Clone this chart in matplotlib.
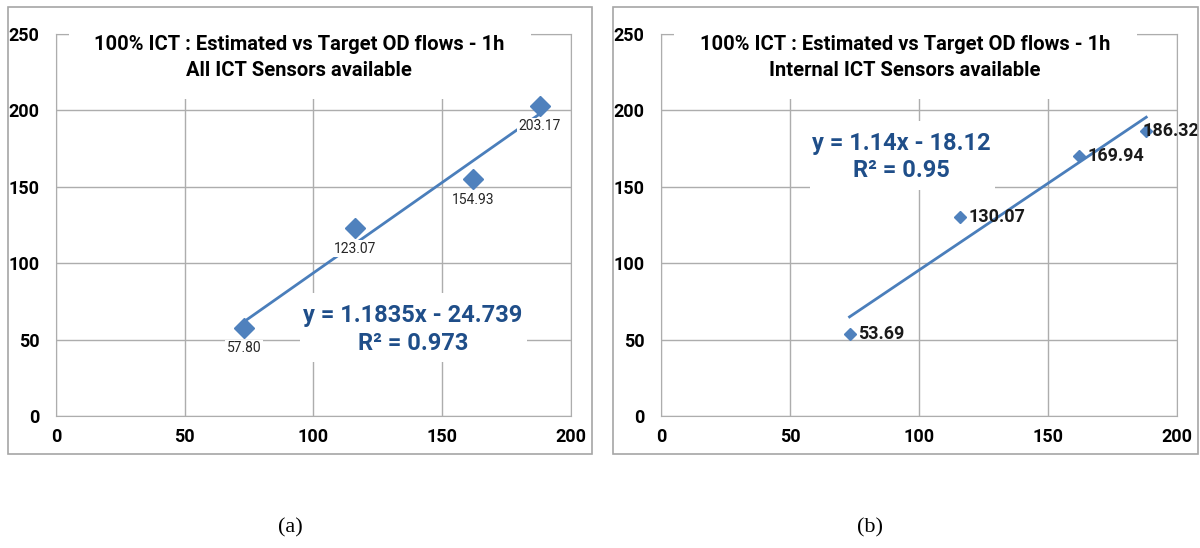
import matplotlib.pyplot as plt
import numpy as np
from matplotlib.patches import Rectangle

# target flows (x) and estimated flows (y)
target = [73, 116, 162, 188]
est_all = [57.80, 123.07, 154.93, 203.17]
est_internal = [53.69, 130.07, 169.94, 186.32]

titles = ['100% ICT : Estimated vs Target OD flows - 1h\nAll ICT Sensors available',
          '100% ICT : Estimated vs Target OD flows - 1h\nInternal ICT Sensors available']
eq_texts = ['y = 1.1835x - 24.739\nR\u00b2 = 0.973',
            'y = 1.14x - 18.12\nR\u00b2 = 0.95']
captions = ['(a)', '(b)']
ticks = [0, 50, 100, 150, 200, 250]

FONT = ['Roboto', 'DejaVu Sans']
BLUE = '#4F81BD'
LINE = '#4A7EBB'
EQ = '#1F4E89'
GRID = '#ADADAD'

fig = plt.figure(figsize=(12, 5.48), dpi=100)

# outer chart frames
for x0 in [0.0067, 0.511]:
    fig.patches.append(Rectangle((x0, 0.1715), 0.487, 0.816, transform=fig.transFigure,
                                 fill=False, edgecolor='#A6A6A6', lw=1.2))

ax1 = fig.add_axes([0.0467, 0.241, 0.429, 0.697])
ax2 = fig.add_axes([0.551, 0.241, 0.43, 0.697])


def setup(ax):
    ax.set_xlim(0, 200)
    ax.set_ylim(0, 250)
    ax.set_xticks(ticks[:-1])
    ax.set_yticks(ticks)
    ax.grid(True, color=GRID, lw=1)
    ax.set_axisbelow(True)
    for s in ax.spines.values():
        s.set_color(GRID)
    ax.tick_params(length=0, labelsize=13, pad=9)
    ax.tick_params(axis='y', pad=12)
    for lab in ax.get_xticklabels() + ax.get_yticklabels():
        lab.set_fontweight('bold')
        lab.set_family(FONT)


def trend(ax, x, y):
    k, b = np.polyfit(x, y, 1)
    xs = np.array([min(x), max(x)])
    ax.plot(xs, k * xs + b, color=LINE, lw=2, zorder=3)


def title_and_eq(ax, title, eq, eqbox, eqpos):
    # title area hides gridlines
    ax.add_patch(Rectangle((5, 207.5), 179.5, 46, facecolor='white', edgecolor='none',
                           zorder=2.6, clip_on=False))
    ax.text(94.5, 234.5, title, ha='center', va='center', fontsize=14.5, fontweight='bold',
            family=FONT, linespacing=1.5, zorder=4)
    ax.add_patch(Rectangle(eqbox[0], eqbox[1], eqbox[2], facecolor='white',
                           edgecolor='none', zorder=2.6))
    ax.text(eqpos[0], eqpos[1], eq, ha='center', va='center', fontsize=17,
            fontweight='bold', color=EQ, family=FONT, linespacing=1.25, zorder=4)


# (a) all sensors
setup(ax1)
title_and_eq(ax1, titles[0], eq_texts[0], ((94.8, 35.3), 88, 45.2), (138.6, 56.5))
trend(ax1, target, est_all)
ax1.plot(target, est_all, 'D', color=BLUE, ms=10, zorder=5)
for x, y in zip(target, est_all):
    ax1.annotate(f'{y:.2f}', (x, y), xytext=(0, -15), textcoords='offset points',
                 ha='center', va='center', fontsize=10, family=FONT, color='#262626',
                 bbox=dict(facecolor='white', edgecolor='none', pad=1), zorder=4)

# (b) internal sensors only
setup(ax2)
title_and_eq(ax2, titles[1], eq_texts[1], ((57.8, 148.2), 71.7, 45), (93, 169.5))
ax2.plot(target, est_internal, 'D', color=BLUE, ms=6, zorder=3)
label_dx = [6, 6, 6, -3]  # last label pushed back inside the frame
for x, y, dx in zip(target, est_internal, label_dx):
    ax2.annotate(f'{y:.2f}', (x, y), xytext=(dx, 0), textcoords='offset points',
                 ha='left', va='center', fontsize=13, fontweight='bold', family=FONT,
                 color='#1A1A1A', zorder=3.5)
trend(ax2, target, est_internal)

fig.text(0.2417, 0.036, captions[0], ha='center', va='center', fontsize=16,
         family='Liberation Serif')
fig.text(0.725, 0.036, captions[1], ha='center', va='center', fontsize=16,
         family='Liberation Serif')

fig.savefig('out.png', dpi=100)
